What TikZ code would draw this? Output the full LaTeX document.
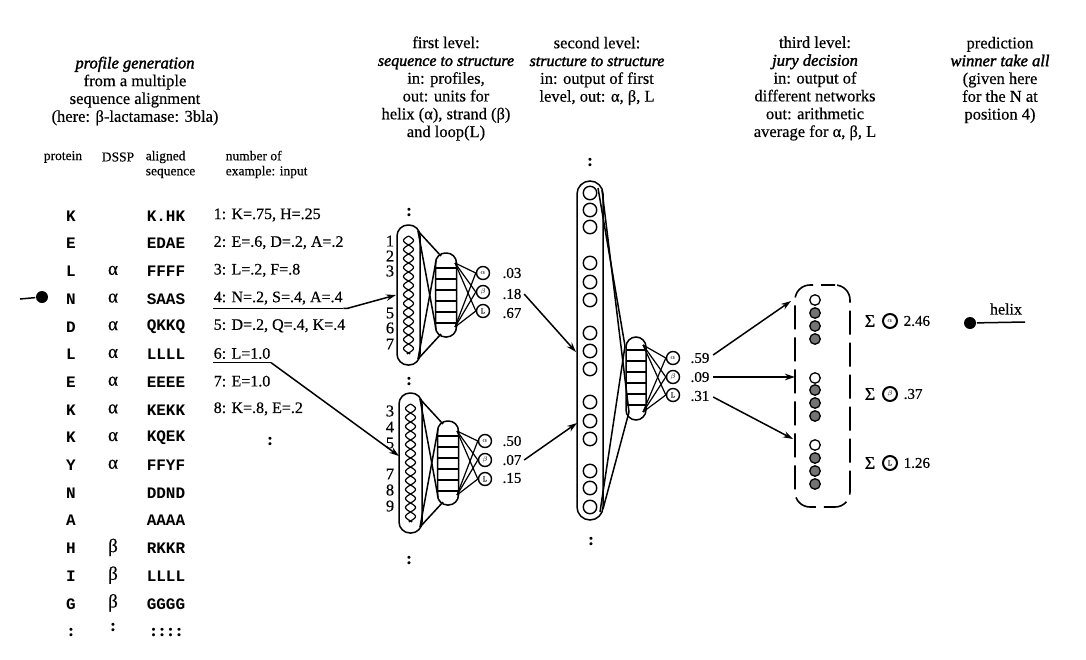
\documentclass[tikz,border=0pt]{standalone}
\usepackage{fontspec}
\setmainfont{Liberation Serif}[FakeBold=0.4]
\setmonofont{Liberation Mono}
\newfontfamily\embi{Liberation Serif Italic}[FakeBold=1.8]
\usetikzlibrary{arrows.meta}
\begin{document}
\begin{tikzpicture}[x=1pt,y=-1pt,line width=1.5pt,
  hdr/.style={font=\fontsize{16.5}{17.8}\selectfont, inner sep=0pt, align=center},
  colh/.style={font=\fontsize{13.5}{15}\selectfont, inner sep=0pt, align=left},
  mono/.style={font=\fontsize{16}{16}\selectfont\ttfamily\bfseries, inner sep=0pt},
  gk/.style={font=\fontsize{19}{19}\selectfont, inner sep=0pt},
  ex/.style={font=\fontsize{16}{16}\selectfont, inner sep=0pt, anchor=west},
  num/.style={font=\fontsize{16.5}{16.5}\selectfont, inner sep=0pt},
  sig/.style={font=\fontsize{18}{18}\selectfont, inner sep=0pt},
  val/.style={font=\fontsize{15}{15}\selectfont, inner sep=0pt},
  dots/.style={font=\fontsize{17}{17}\selectfont\bfseries, inner sep=0pt},
  unit/.style={circle, draw, line width=1.4pt, minimum size=13pt, inner sep=0pt, font=\fontsize{7}{7}\selectfont},
  jcell/.style={circle, draw, line width=1.3pt, minimum size=10.5pt, inner sep=0pt},
  jgray/.style={jcell, fill=black!55},
  arr/.style={-{Stealth[length=10pt,width=6.5pt]}, line width=1.5pt},
  hidden/.style={draw, rounded corners=10pt, minimum width=21pt, minimum height=84pt, inner sep=0pt},
  wave/.style={line width=1.2pt},
  pics/firstnet/.style={code={
    \node[draw, rounded corners=11pt, minimum width=23pt, minimum height=140pt, inner sep=0pt] (-col) at (11.5,70) {};
    \draw[wave] plot[domain=11:129, samples=100, variable=\t] ({11.5+5*sin((\t-11)*20)}, \t);
    \draw[wave] plot[domain=11:129, samples=100, variable=\t] ({11.5-5*sin((\t-11)*20)}, \t);
    \node[hidden] (-hid) at (49,70) {};
    \foreach \yy in {43,54,65,76,87,98} \draw[line width=1.2pt] (38.5,\yy) -- (59.5,\yy);
    \node[unit] (-o1) at (86,48) {$\alpha$};
    \node[unit] (-o2) at (86,67) {$\beta$};
    \node[unit] (-o3) at (86,86) {L};
    \coordinate (-ct) at (21,6);
    \coordinate (-cb) at (21,134);
    \coordinate (-ht) at (44,31);
    \coordinate (-hb) at (44,109);
    \coordinate (-hl1) at (39,36);
    \coordinate (-hl2) at (39,104);
    \coordinate (-hr1) at (58,38);
    \coordinate (-hr2) at (58,102);
    \draw (-ct) -- (-ht);
    \draw (-ct) -- (-hl2);
    \draw (-cb) -- (-hl1);
    \draw (-cb) -- (-hb);
    \foreach \o in {1,2,3} {
      \draw[line width=1.2pt] (-hr1) -- (-o\o.west);
      \draw[line width=1.2pt] (-hr2) -- (-o\o.west);
    }
  }}
]
\useasboundingbox (0,0) rectangle (1086,659);

% ---------- headers ----------
\node[hdr] (hprof) at (135,91) {{\embi profile generation}\\from a multiple\\sequence alignment\\(here: β-lactamase: 3bla)};
\node[hdr] (hfirst) at (446,88.5) {first level:\\{\fontsize{16}{17.8}\selectfont\embi sequence to structure}\\in: profiles,\\out: units for\\helix (α), strand (β)\\and loop(L)};
\node[hdr] (hsecond) at (597,71) {second level:\\{\fontsize{16}{17.8}\selectfont\embi structure to structure}\\in: output of first\\level, out: α, β, L};
\node[hdr] (hthird) at (815,88.5) {third level:\\{\embi jury decision}\\in: output of\\different networks\\out: arithmetic\\average for α, β, L};
\node[hdr] (hpred) at (1000,80) {prediction\\{\embi winner take all}\\(given here\\for the N at\\position 4)};

% ---------- column headers ----------
\node[colh] (cprot) at (63,157) {protein};
\node[colh] (cdssp) at (118,157) {DSSP};
\node[colh, anchor=west] (calig) at (145,164.5) {aligned\\sequence};
\node[colh, anchor=west] (cnum) at (225,164.5) {number of\\example: input};

% ---------- rows ----------
\foreach \i/\p/\d/\s in {0/K//K.HK,1/E//EDAE,2/L/α/FFFF,3/N/α/SAAS,4/D/α/QKKQ,5/L/α/LLLL,6/E/α/EEEE,7/K/α/KEKK,8/K/α/KQEK,9/Y/α/FFYF,10/N//DDND,11/A//AAAA,12/H/β/RKKR,13/I/β/LLLL,14/G/β/GGGG} {
  \node[mono] (p\i) at (71,216+27.7*\i) {\p};
  \node[gk] (d\i) at (113,215+27.7*\i) {\d};
  \node[mono, anchor=west] (s\i) at (146,216+27.7*\i) {\s};
}
\node[dots] (p15) at (71,632) {:};
\node[dots] (d15) at (113,627) {:};
\node[dots, anchor=west] (s15) at (150,632) {:\,:\,:\,:};

\foreach \i/\t in {0/{1: K=.75, H=.25},1/{2: E=.6, D=.2, A=.2},2/{3: L=.2, F=.8},3/{4: N=.2, S=.4, A=.4},4/{5: D=.2, Q=.4, K=.4},5/{6: L=1.0},6/{7: E=1.0},7/{8: K=.8, E=.2}} {
  \node[ex] (e\i) at (213,215+27.7*\i) {\t};
}
\node[dots] (edots) at (270,441) {:};

% underlines
\draw[line width=1.3pt] (e3.south west) ++(0,3) coordinate (u3a) -- (e3.south east |- u3a) coordinate (u3b);
\draw[line width=1.3pt] (e5.south west) ++(0,3) coordinate (u5a) -- (e5.south east |- u5a) coordinate (u5b);

% left pointer
\node[circle, fill, minimum size=12pt, inner sep=0pt] (ldot) at (42,297) {};
\coordinate (lstart) at (20,299);
\draw (lstart) -- (ldot);

% ---------- first level networks ----------
\pic (ta) at (397,225) {firstnet};
\pic (tb) at (399,393) {firstnet};

\node[num] (na1) at (390,241) {1};
\node[num] (na2) at (390,256) {2};
\node[num] (na3) at (390,271) {3};
\node[num] (na5) at (390,313) {5};
\node[num] (na6) at (390,328) {6};
\node[num] (na7) at (390,344) {7};
\node[num] (nb3) at (390,411) {3};
\node[num] (nb4) at (390,427) {4};
\node[num] (nb5) at (390,443) {5};
\node[num] (nb7) at (390,474) {7};
\node[num] (nb8) at (390,490) {8};
\node[num] (nb9) at (390,506) {9};

\node[dots] (dta1) at (409,212) {:};
\node[dots] (dta2) at (409,381) {:};
\node[dots] (dtb2) at (409,560) {:};

\node[val] (va1) at (512,273) {.03};
\node[val] (va2) at (512,294) {.18};
\node[val] (va3) at (512,313) {.67};
\node[val] (vb1) at (512,441) {.50};
\node[val] (vb2) at (512,460) {.07};
\node[val] (vb3) at (512,478) {.15};

% arrows into first level
\coordinate (ina) at (396,295);
\coordinate (inb) at (399,456);
\draw[arr] (u3b) -- ++(4,0) -- (ina);
\draw[arr] (u5b) -- (inb);

% ---------- second level ----------
\node[draw, rounded corners=13pt, minimum width=26pt, minimum height=339pt, inner sep=0pt] (scol) at (590,350.5) {};
\foreach \k/\yy in {1/193,2/210,3/227,4/263,5/282,6/300,7/333,8/351,9/369,10/402,11/421,12/439,13/471,14/488,15/507} {
  \node[circle, draw, line width=1.4pt, minimum size=13.5pt, inner sep=0pt] (sc\k) at (590,\yy) {};
}
\node[dots] (dsc1) at (590,162) {:};
\node[dots] (dsc2) at (591,541) {:};

\node[hidden, minimum width=20pt, minimum height=83pt] (shid) at (636,378.5) {};
\foreach \yy in {350,361,372,383,394,405} \draw[line width=1.2pt] (626,\yy) -- (646,\yy);
\node[unit] (so1) at (673,358) {$\alpha$};
\node[unit] (so2) at (673,377) {$\beta$};
\node[unit] (so3) at (673,395) {L};

\coordinate (sct1) at (598,188);
\coordinate (sct2) at (602,190);
\coordinate (scb1) at (600,512);
\coordinate (scb2) at (603,509);
\coordinate (sht) at (625,346);
\coordinate (shb) at (629,412);
\draw (sct1) -- (sht);
\draw (sct2) -- (shb);
\draw (scb1) -- (sht);
\draw (scb2) -- (shb);
\coordinate (shr1) at (643,345);
\coordinate (shr2) at (643,412);
\foreach \o in {1,2,3} {
  \draw[line width=1.2pt] (shr1) -- (so\o.west);
  \draw[line width=1.2pt] (shr2) -- (so\o.west);
}

\node[val] (w1) at (700,358) {.59};
\node[val] (w2) at (700,377) {.09};
\node[val] (w3) at (700,396) {.31};

\coordinate (sin1) at (576,352);
\coordinate (sin2) at (577,423);
\draw[arr] (va2.east) ++(2,0) -- (sin1);
\draw[arr] (vb2.east) ++(2,0) -- (sin2);

% ---------- third level ----------
\node[draw, dash pattern=on 24pt off 8pt, dash phase=10pt, rounded corners=15pt, minimum width=55pt, minimum height=222pt, inner sep=0pt, line width=1.6pt] (jury) at (822.5,396) {};
\foreach \g/\ya/\yb/\yc/\yd in {1/300/313/326/339,2/378/390/403/416,3/445/458/471/484} {
  \node[jcell] (j\g a) at (815,\ya) {};
  \node[jgray] (j\g b) at (815,\yb) {};
  \node[jgray] (j\g c) at (815,\yc) {};
  \node[jgray] (j\g d) at (815,\yd) {};
}
\coordinate (jin1) at (791,301);
\coordinate (jin2) at (795,377);
\coordinate (jin3) at (793,439);
\draw[arr] (w1.east) ++(3,-3) -- (jin1);
\draw[arr] (w2.east) ++(3,0) -- (jin2);
\draw[arr] (w3.east) ++(3,1) -- (jin3);

\node[sig] (sig1) at (870,321) {Σ};
\node[sig] (sig2) at (870,394) {Σ};
\node[sig] (sig3) at (870,463) {Σ};
\node[unit, line width=2pt, minimum size=14pt] (sa1) at (890,321) {$\alpha$};
\node[unit, line width=2pt, minimum size=14pt] (sa2) at (890,394) {$\beta$};
\node[unit, line width=2pt, minimum size=14pt] (sa3) at (890,463) {L};
\node[val, anchor=west] (r1) at (903,321) {2.46};
\node[val, anchor=west] (r2) at (903,394) {.37};
\node[val, anchor=west] (r3) at (903,463) {1.26};

% ---------- prediction ----------
\node[circle, fill, minimum size=12pt, inner sep=0pt] (hdot) at (970,323) {};
\coordinate (hend) at (1025,322);
\draw (hdot) -- (hend);
\node[val, font=\fontsize{16}{16}\selectfont] (helix) at (1006,309) {helix};
\end{tikzpicture}
\end{document}
